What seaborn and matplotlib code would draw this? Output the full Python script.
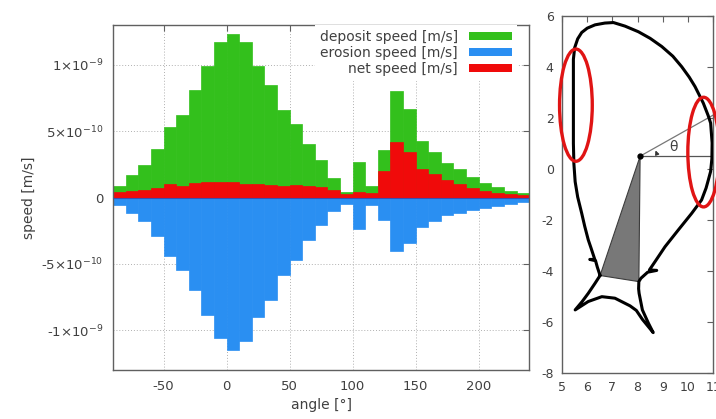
import numpy as np
import pandas as pd
import matplotlib
matplotlib.use("Agg")
import matplotlib.pyplot as plt
from matplotlib.patches import Patch, Ellipse
import seaborn as sns

# ---- left panel: speeds per 10 degree angle bin (bin centres) ----
angle = np.arange(-85, 240, 10)

deposit = np.array([0.09, 0.17, 0.245, 0.367, 0.53, 0.625, 0.81, 0.995, 1.17, 1.23,
                    1.17, 0.995, 0.85, 0.66, 0.557, 0.405, 0.28, 0.15, 0.04, 0.27,
                    0.09, 0.356, 0.805, 0.67, 0.43, 0.34, 0.26, 0.217, 0.154, 0.109,
                    0.078, 0.053, 0.033]) * 1e-9

erosion = np.array([0.053, 0.12, 0.18, 0.29, 0.44, 0.545, 0.70, 0.886, 1.06, 1.146,
                    1.08, 0.90, 0.77, 0.586, 0.47, 0.32, 0.205, 0.10, 0.045, 0.237,
                    0.053, 0.17, 0.40, 0.34, 0.225, 0.175, 0.13, 0.12, 0.095, 0.075,
                    0.06, 0.05, 0.03]) * 1e-9

net = np.array([0.045, 0.05, 0.06, 0.075, 0.10, 0.09, 0.11, 0.115, 0.12, 0.115,
                0.10, 0.10, 0.095, 0.09, 0.095, 0.09, 0.08, 0.06, 0.025, 0.04,
                0.035, 0.2, 0.42, 0.34, 0.217, 0.174, 0.13, 0.10, 0.073, 0.053,
                0.035, 0.028, 0.02]) * 1e-9

series_names = ["deposit speed [m/s]", "erosion speed [m/s]", "net speed [m/s]"]

x_ticks = [-50, 0, 50, 100, 150, 200]
y_ticks = [-1e-9, -5e-10, 0, 5e-10, 1e-9]
y_tick_labels = [r"-$1{\times}10^{-9}$", r"-$5{\times}10^{-10}$", "0",
                 r"$5{\times}10^{-10}$", r"$1{\times}10^{-9}$"]

# ---- right panel: cross-section outline ----
body_x = [6.51, 6.40, 6.33, 6.10, 6.30, 6.15, 6.04, 5.90, 5.78, 5.62, 5.52, 5.47,
          5.45, 5.45, 5.45, 5.50, 5.62, 5.78, 6.00, 6.31, 6.70, 7.04, 7.50, 8.03,
          8.50, 8.96, 9.40, 9.75, 10.05, 10.28, 10.61, 10.80, 10.90, 10.96, 10.95,
          10.90, 10.81, 10.72, 10.54, 10.15, 9.62, 9.09, 8.69, 8.47, 8.76, 8.40,
          8.13, 8.05, 8.04, 8.06, 8.19, 8.43, 8.62, 8.19, 7.95, 7.70, 7.10, 6.58,
          6.04, 5.52, 5.80, 6.04, 6.30, 6.51]
body_y = [-4.18, -3.85, -3.60, -3.55, -3.55, -3.10, -2.78, -2.25, -1.74, -1.10,
          -0.50, 0.20, 1.0, 2.5, 4.3, 4.75, 5.10, 5.35, 5.52, 5.65, 5.72, 5.74,
          5.60, 5.38, 5.12, 4.80, 4.42, 4.01, 3.60, 3.23, 2.58, 2.10, 1.80, 1.02,
          0.40, -0.10, -0.43, -0.75, -1.22, -1.74, -2.39, -3.05, -3.64, -3.96,
          -3.98, -4.05, -4.29, -4.42, -4.70, -4.88, -5.53, -6.05, -6.42, -5.90,
          -5.55, -5.37, -5.07, -5.01, -5.20, -5.53, -5.20, -4.88, -4.50, -4.18]

wedge_x = [8.10, 6.51, 8.05]
wedge_y = [0.50, -4.18, -4.42]
centre = (8.10, 0.50)
theta_end = (11.0, 2.11)

ellipse_centres = [(5.55, 2.50), (10.62, 0.66)]
ellipse_w = [1.30, 1.25]
ellipse_h = [4.40, 4.30]

green = "#33c01c"
blue = "#2a8ff2"
red = "#f00a0a"
text_col = "#404040"
spine_col = "#606060"

sns.set_style("white")
plt.rcParams["font.family"] = ["DejaVu Sans"]
plt.rcParams["mathtext.default"] = "regular"
plt.rcParams["axes.unicode_minus"] = False

df = pd.DataFrame({"angle": angle, "deposit": deposit,
                   "erosion": -erosion, "net": net})

fig = plt.figure(figsize=(7.16, 4.19), dpi=100)
ax = fig.add_axes([0.158, 0.117, 0.581, 0.823])
ax2 = fig.add_axes([0.785, 0.110, 0.211, 0.852])

for col, c in [("deposit", green), ("net", red), ("erosion", blue)]:
    sns.barplot(data=df, x="angle", y=col, native_scale=True, width=1.0,
                orient="v", color=c, saturation=1, edgecolor=c, linewidth=0.5,
                errorbar=None, ax=ax)

ax.axhline(0, color="#3a4fb0", lw=0.8, zorder=3)

ax.set_xlim(-90, 240)
ax.set_ylim(-1.3e-9, 1.3e-9)
ax.set_xticks(x_ticks)
ax.set_xticklabels([str(t) for t in x_ticks])
ax.set_yticks(y_ticks)
ax.set_yticklabels(y_tick_labels)
ax.grid(True, linestyle=(0, (1, 2)), color="#b0b0b0", lw=0.7)
ax.set_axisbelow(True)
ax.tick_params(direction="in", top=True, right=True, length=4, width=0.8,
               color=spine_col, labelcolor=text_col, labelsize=9.5, pad=7)
ax.set_xlabel("angle [°]", color=text_col, fontsize=10, labelpad=4)
ax.set_ylabel("speed [m/s]", color=text_col, fontsize=10, labelpad=4)
for s in ax.spines.values():
    s.set_color(spine_col)
    s.set_linewidth(1.0)

handles = [Patch(facecolor=green, edgecolor="none"),
           Patch(facecolor=blue, edgecolor="none"),
           Patch(facecolor=red, edgecolor="none")]
leg = ax.legend(handles, series_names, loc="upper right",
                bbox_to_anchor=(0.971, 1.0), borderaxespad=0, borderpad=0.35,
                markerfirst=False, handlelength=3.1, handleheight=0.5,
                handletextpad=0.8, labelspacing=0.15, fontsize=10,
                frameon=True, fancybox=False, framealpha=1)
leg.get_frame().set_edgecolor("none")
leg.get_frame().set_facecolor("white")
for t in leg.get_texts():
    t.set_color(text_col)

# right panel
ax2.fill(wedge_x, wedge_y, facecolor="#787878", edgecolor="#3c3c3c", lw=0.8,
         zorder=2)
sns.lineplot(x=body_x, y=body_y, sort=False, estimator=None, color="black",
             lw=2.2, ax=ax2, zorder=3)
ax2.plot([centre[0], 11.0], [centre[1], centre[1]], color="#555555", lw=0.9,
         zorder=2)
ax2.plot([centre[0], theta_end[0]], [centre[1], theta_end[1]], color="#777777",
         lw=0.9, zorder=2)
ax2.plot(*centre, "o", color="black", ms=3.5, zorder=4)
ax2.annotate("", xy=(8.66, 0.82), xytext=(8.72, 0.52),
             arrowprops=dict(arrowstyle="-|>", color="#333333", lw=0.8,
                             mutation_scale=6,
                             connectionstyle="arc3,rad=0.25"))
ax2.text(9.42, 0.86, "θ", color=text_col, fontsize=10, ha="center",
         va="center")
for (cx, cy), w, h in zip(ellipse_centres, ellipse_w, ellipse_h):
    ax2.add_patch(Ellipse((cx, cy), w, h, fill=False, edgecolor="#e01414",
                          lw=2.4, zorder=5, clip_on=False))

ax2.set_xlim(5, 11)
ax2.set_ylim(-8, 6)
ax2.set_xticks(range(5, 12))
ax2.set_yticks(range(-8, 7, 2))
ax2.set_xlabel("")
ax2.set_ylabel("")
ax2.tick_params(direction="in", top=True, right=True, length=4, width=0.8,
                color=spine_col, labelcolor=text_col, labelsize=9, pad=6)
for s in ax2.spines.values():
    s.set_color(spine_col)
    s.set_linewidth(1.0)

fig.savefig("out.png", dpi=100)
